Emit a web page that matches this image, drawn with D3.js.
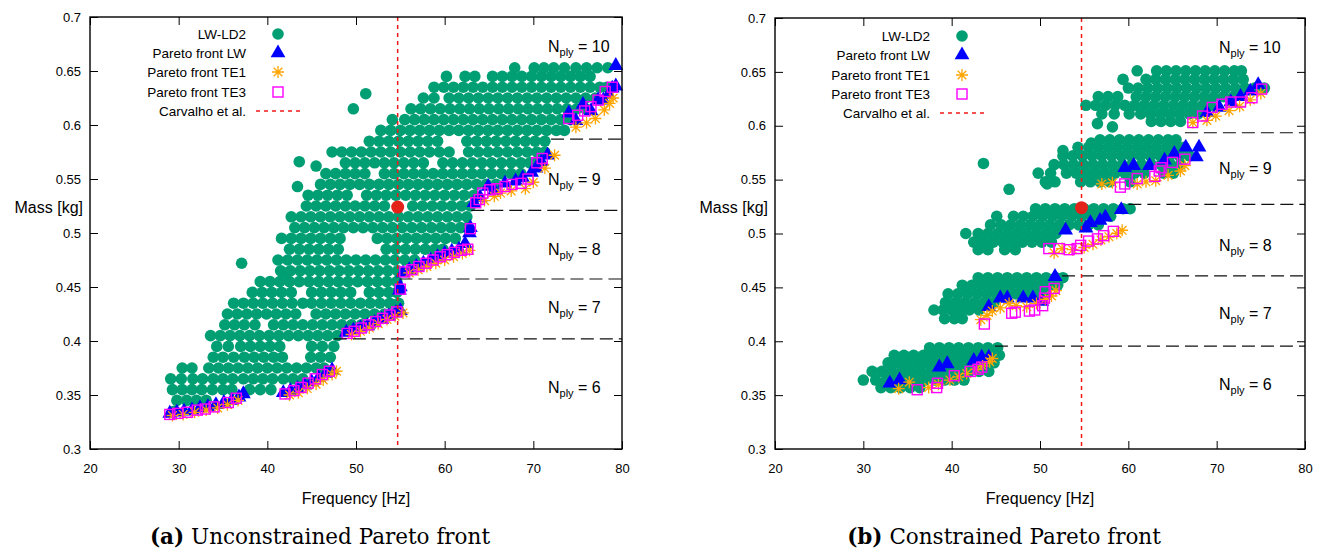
<!DOCTYPE html>
<html>
<head>
<meta charset="utf-8">
<script src="https://cdn.jsdelivr.net/npm/d3@7"></script>
<style>
  body { margin: 0; background: #fff; }
  text { font-family: "Liberation Sans", Arial, sans-serif; }
</style>
</head>
<body>
<div id="chart"></div>
<script>
// axis ticks
var freqTicks = [20, 30, 40, 50, 60, 70, 80];
var massTicks = [0.3, 0.35, 0.4, 0.45, 0.5, 0.55, 0.6, 0.65, 0.7];
var massTickLabels = ['0.3', '0.35', '0.4', '0.45', '0.5', '0.55', '0.6', '0.65', '0.7'];
var carvalhoFreq = 54.7;
var carvalhoMass = 0.524;
var nplyNames = ['10', '9', '8', '7', '6'];

// ---------- (a) unconstrained: LW-LD2 cloud, one row of frequencies per mass level
var cloudMassA = [0.335, 0.345, 0.355, 0.365, 0.375, 0.385, 0.395, 0.405, 0.415, 0.425,
  0.435, 0.445, 0.455, 0.465, 0.475, 0.485, 0.495, 0.505, 0.515, 0.525, 0.535, 0.545,
  0.555, 0.565, 0.575, 0.585, 0.595, 0.605, 0.615, 0.625, 0.635, 0.645, 0.653];
var cloudFreqA = [
  [29.5],
  [29.8, 30.9, 32.0, 33.1],
  [29.3, 30.4, 31.5, 32.6, 33.8, 35.0, 36.0, 38.0, 39.2, 40.4],
  [29.1, 30.3, 31.6, 32.7, 33.9, 35.0, 36.1, 37.3, 38.4, 39.5, 40.6, 41.8, 42.9, 44.0],
  [30.4, 31.5, 33.4, 34.5, 35.6, 36.7, 37.8, 38.9, 40.0, 41.1, 42.2, 43.3, 44.4, 45.5, 46.4],
  [33.9, 35.0, 36.2, 37.4, 38.5, 39.6, 40.7, 41.7, 44.9, 46.0, 47.1],
  [34.3, 35.6, 37.0, 38.1, 39.2, 40.3, 41.4, 45.0, 46.2, 47.5],
  [33.6, 34.7, 35.8, 36.9, 38.0, 39.1, 40.2, 41.3, 42.4, 43.5, 44.6, 45.7, 46.8, 47.9],
  [35.2, 36.3, 37.4, 38.6, 40.7, 41.8, 42.9, 44.0, 45.1, 46.2, 47.3, 48.4, 49.5, 50.6, 51.7],
  [35.5, 36.6, 37.7, 38.8, 39.9, 41.0, 42.1, 43.2, 45.5, 46.6, 47.7, 48.8, 49.9, 51.0, 52.1, 53.2, 54.2],
  [36.2, 37.3, 38.4, 39.5, 40.6, 41.7, 42.8, 44.0, 45.0, 46.1, 47.2, 48.3, 49.4, 50.5, 51.6, 52.7, 53.8, 54.8],
  [38.3, 39.4, 40.5, 41.6, 42.7, 45.0, 46.1, 47.2, 48.3, 49.4, 51.5, 52.6, 53.7, 54.6],
  [39.2, 40.3, 41.4, 42.5, 43.6, 44.7, 45.8, 46.9, 48.0, 49.1, 50.2, 51.3, 52.4, 53.5, 54.6],
  [41.5, 42.6, 43.7, 44.8, 45.9, 47.0, 48.1, 49.2, 50.3, 51.4, 52.5, 53.6, 54.7],
  [41.2, 42.3, 43.4, 44.5, 45.6, 46.7, 47.8, 48.9, 50.0, 51.1, 52.2, 53.3, 54.4, 55.5, 56.6],
  [42.5, 43.6, 44.7, 45.8, 46.9, 48.0, 53.4, 54.5, 55.6, 56.7, 57.8, 58.9, 59.8],
  [41.6, 42.7, 43.8, 44.9, 46.0, 47.1, 48.2, 52.4, 53.5, 54.6, 55.7, 56.8, 57.9, 59.0, 60.1, 61.2],
  [43.1, 44.2, 45.3, 46.4, 47.5, 48.6, 49.7, 50.8, 51.9, 53.0, 54.1, 55.2, 56.3, 57.4, 58.5, 59.6, 60.7, 61.8, 62.5],
  [42.7, 43.8, 44.9, 46.0, 47.1, 48.2, 49.3, 50.4, 51.5, 52.6, 53.7, 54.8, 55.9, 57.0, 58.1, 59.2, 60.3, 61.4, 62.5],
  [44.4, 45.5, 46.6, 47.7, 48.8, 49.9, 51.0, 52.1, 53.2, 56.4, 57.5, 58.6, 59.7, 60.8, 61.9, 62.9],
  [44.6, 45.7, 46.8, 47.9, 49.0, 51.2, 52.3, 53.4, 54.5, 55.6, 56.7, 57.8, 58.9, 60.0, 61.1, 62.2, 63.3],
  [46.0, 47.1, 48.2, 49.3, 50.4, 51.5, 52.6, 53.7, 54.8, 55.9, 57.0, 58.1, 59.2, 60.3, 61.4, 62.5, 63.6, 64.7, 65.8],
  [46.6, 47.7, 48.8, 49.9, 51.0, 53.2, 54.3, 55.4, 56.5, 57.6, 58.7, 59.8, 60.9, 62.0, 63.1, 64.2, 65.3, 66.4, 67.5, 68.6],
  [48.8, 49.9, 51.0, 52.1, 53.2, 54.3, 55.4, 56.5, 57.6, 59.8, 60.9, 62.0, 63.1, 64.2, 65.3, 66.4, 67.5, 68.6, 69.6, 70.4],
  [47.3, 48.4, 49.5, 50.6, 51.7, 52.8, 53.9, 55.0, 56.1, 57.2, 58.3, 59.4, 60.5, 62.7, 63.8, 64.9, 66.0, 67.1, 68.2, 69.3, 70.4, 71.3],
  [51.5, 52.6, 53.7, 54.8, 55.9, 57.0, 58.1, 59.2, 62.5, 63.6, 64.7, 65.8, 66.9, 68.0, 69.1, 70.2, 71.3],
  [52.8, 53.9, 55.0, 56.1, 57.2, 58.3, 59.4, 60.5, 61.6, 62.7, 63.8, 64.9, 66.0, 67.1, 68.2, 69.3, 70.4, 71.5, 72.6, 73.5],
  [54.1, 55.5, 56.6, 57.7, 58.8, 59.9, 61.0, 62.1, 63.2, 64.3, 65.4, 66.5, 67.6, 68.7, 69.8, 70.9, 72.0, 73.1, 74.2],
  [56.2, 57.3, 58.4, 59.5, 60.6, 61.7, 62.8, 63.9, 65.0, 66.1, 67.2, 68.3, 69.4, 70.5, 71.6, 72.7, 73.8, 74.9, 75.9],
  [57.6, 58.8, 60.5, 61.6, 62.7, 63.8, 64.9, 66.0, 67.1, 68.2, 69.3, 70.4, 71.5, 72.6, 73.7, 74.8, 75.9, 77.0],
  [58.8, 59.9, 61.0, 62.1, 63.2, 64.3, 65.4, 66.5, 67.6, 68.7, 69.8, 70.9, 72.0, 73.1, 74.2, 75.3, 76.4, 77.5, 78.3],
  [60.2, 62.3, 63.4, 65.4, 66.5, 67.6, 68.7, 69.8, 70.9, 72.0, 73.1, 74.2, 75.3, 76.4],
  [67.9, 70.1, 71.2, 72.3, 73.5, 74.8, 76.0, 77.2, 78.4]
];
var cloudExtraA = [[37.1, 0.472], [42.0, 0.463], [43.6, 0.566], [45.5, 0.562], [43.4, 0.543],
  [49.7, 0.615], [51.1, 0.629]];

var paretoLwA = [
  [29.0, 0.333], [29.8, 0.334], [30.6, 0.335], [31.5, 0.336], [32.4, 0.338], [33.3, 0.339], [34.2, 0.341],
  [35.1, 0.343], [36.0, 0.345], [36.8, 0.348], [37.3, 0.351], [41.8, 0.352], [42.6, 0.354], [43.4, 0.356],
  [44.2, 0.359], [45.0, 0.362], [45.8, 0.366], [46.6, 0.370], [47.3, 0.373],
  [48.9, 0.408], [49.7, 0.410], [50.5, 0.412], [51.3, 0.414], [52.1, 0.417], [52.9, 0.420], [53.7, 0.423],
  [54.5, 0.426], [55.0, 0.428], [54.9, 0.447], [55.0, 0.450],
  [55.3, 0.463], [56.0, 0.466], [56.8, 0.469], [57.6, 0.472], [58.4, 0.475], [59.2, 0.478], [60.0, 0.481],
  [60.8, 0.483], [61.6, 0.485], [62.3, 0.490], [62.8, 0.500], [62.9, 0.505],
  [63.3, 0.528], [64.0, 0.533], [64.9, 0.543], [65.6, 0.539], [66.8, 0.546], [68.0, 0.548], [68.8, 0.551],
  [69.8, 0.556], [70.3, 0.560], [70.9, 0.566], [71.6, 0.572],
  [74.0, 0.611], [74.8, 0.604], [75.6, 0.619], [76.5, 0.613], [77.3, 0.623], [77.9, 0.623], [78.5, 0.628],
  [78.9, 0.634], [79.3, 0.636], [79.3, 0.655]
];
var paretoTe1A = [
  [29.3, 0.331], [30.5, 0.332], [31.8, 0.334], [33.1, 0.336], [34.4, 0.338], [35.5, 0.341], [36.7, 0.345],
  [42.5, 0.350], [43.5, 0.352], [44.5, 0.356], [45.5, 0.360], [46.3, 0.364], [47.3, 0.369], [47.8, 0.372],
  [49.5, 0.406], [50.5, 0.409], [51.5, 0.412], [52.5, 0.416], [53.5, 0.420], [54.4, 0.423], [55.3, 0.426],
  [56.0, 0.463], [57.0, 0.466], [58.0, 0.469], [59.0, 0.472], [60.0, 0.475], [61.0, 0.478], [62.0, 0.481], [62.8, 0.484],
  [64.5, 0.530], [65.6, 0.534], [66.3, 0.537], [67.5, 0.539], [69.1, 0.541], [70.0, 0.547], [71.3, 0.560], [72.4, 0.572],
  [74.8, 0.598], [76.0, 0.602], [77.0, 0.606], [78.0, 0.614], [78.6, 0.620], [79.0, 0.625]
];
var paretoTe3A = [
  [29.0, 0.332], [29.9, 0.333], [31.0, 0.334], [32.1, 0.336], [33.0, 0.337], [34.0, 0.339], [35.6, 0.343],
  [36.5, 0.347], [42.0, 0.351], [43.0, 0.354], [43.8, 0.357], [44.6, 0.361], [45.4, 0.365], [46.2, 0.369], [47.0, 0.372],
  [49.0, 0.407], [49.8, 0.409], [50.6, 0.412], [51.4, 0.415], [52.2, 0.418], [53.0, 0.421], [53.8, 0.424],
  [54.6, 0.427], [55.0, 0.448],
  [55.5, 0.464], [56.3, 0.466], [57.1, 0.469], [57.9, 0.472], [58.7, 0.475], [59.5, 0.478], [60.3, 0.480],
  [61.1, 0.482], [61.9, 0.484], [62.6, 0.485], [62.9, 0.504],
  [63.5, 0.528], [63.9, 0.531], [64.3, 0.537], [65.1, 0.540], [65.9, 0.541], [66.8, 0.543], [67.6, 0.545],
  [68.6, 0.546], [69.4, 0.550], [70.4, 0.565], [71.0, 0.569],
  [74.0, 0.606], [75.0, 0.609], [75.8, 0.613], [76.5, 0.617], [77.3, 0.623], [78.1, 0.631], [78.9, 0.635]
];
// ply boundaries: [mass, start frequency]
var plyLinesA = [[0.587, 72.0], [0.521, 63.0], [0.4574, 54.9], [0.4019, 47.5]];
var plyLabelMassA = [0.673, 0.5497, 0.4847, 0.4308, 0.3566];

// ---------- (b) constrained
var cloudMassB = [0.357, 0.364, 0.372, 0.380, 0.387, 0.394, 0.421, 0.429, 0.436, 0.444, 0.452, 0.459,
  0.485, 0.492, 0.500, 0.508, 0.516, 0.523, 0.548, 0.556, 0.564, 0.572, 0.580, 0.587,
  0.604, 0.611, 0.619, 0.627, 0.635, 0.643, 0.651];
var cloudFreqB = [
  [32.0, 33.1, 34.2, 35.3, 36.4],
  [30.0, 31.4, 32.6, 33.7, 34.8, 35.9, 37.0, 38.1, 39.2, 40.3, 41.4],
  [31.0, 32.1, 33.2, 34.3, 35.4, 36.5, 37.6, 38.7, 39.8, 40.9, 42.0, 43.1, 44.2],
  [32.8, 33.9, 35.0, 36.1, 37.2, 38.3, 39.4, 40.5, 41.6, 42.7, 43.8, 44.8],
  [33.5, 34.6, 35.7, 36.8, 37.9, 39.0, 40.1, 41.2, 42.3, 43.4, 44.5, 45.4],
  [37.5, 38.6, 39.7, 40.8, 41.9, 43.0, 44.1, 45.2],
  [39.2, 40.3, 41.2],
  [38.0, 39.0, 40.0, 41.0, 42.0, 43.1],
  [39.3, 40.4, 41.5, 42.6, 43.7, 44.8],
  [39.6, 40.7, 41.8, 42.9, 44.0, 45.1, 46.2, 47.3, 48.4, 49.5, 50.5],
  [41.2, 42.3, 43.4, 44.5, 45.6, 46.7, 47.8, 48.9, 50.0, 51.1, 52.0],
  [43.0, 44.1, 45.2, 46.3, 47.4, 48.5, 49.6, 50.7, 51.8, 52.6],
  [43.0, 44.1, 46.0, 47.2],
  [42.5, 43.6, 44.7, 45.8, 46.9, 48.0, 49.1, 50.2, 51.3],
  [41.6, 43.0, 44.1, 45.2, 46.3, 47.4, 48.5, 49.6, 50.7, 51.8],
  [44.4, 45.6, 46.7, 47.8, 48.9, 50.0, 51.1, 52.2, 53.3, 54.4, 55.5, 56.6],
  [45.1, 47.0, 48.1, 49.2, 50.3, 51.4, 52.5, 53.6, 54.7, 55.8, 56.9, 58.0],
  [49.5, 50.6, 51.7, 52.8, 53.9, 55.0, 56.1, 57.2, 58.3, 59.4, 60.2],
  [50.6, 51.7, 54.6, 55.7, 56.8, 57.9, 60.2],
  [49.8, 51.2, 53.0, 54.1, 55.2, 56.3, 57.4, 58.5, 59.6, 60.7, 61.8, 64.0, 65.1],
  [51.6, 52.7, 53.8, 54.9, 56.0, 57.1, 58.2, 59.3, 60.4, 61.5, 62.6, 63.7, 64.8, 65.9],
  [52.6, 53.7, 54.8, 55.9, 57.0, 58.1, 59.2, 60.3, 61.4, 62.5, 63.6, 64.7, 65.8, 66.9],
  [54.3, 55.5, 56.6, 57.7, 58.8, 59.9, 61.0, 62.1, 63.2, 64.3, 65.4, 66.3],
  [56.8, 57.9, 59.0, 60.1, 61.2, 62.3, 63.4, 64.5, 65.4],
  [62.6, 63.7, 64.8, 65.9],
  [57.0, 58.4, 60.1, 61.4, 62.5, 63.6, 64.7, 65.8, 66.9, 67.9],
  [55.2, 56.3, 57.4, 58.5, 59.6, 60.7, 61.8, 62.9, 64.0, 65.1, 66.2, 67.3, 68.4, 69.3],
  [56.6, 57.7, 58.8, 60.9, 62.0, 63.1, 64.2, 65.3, 66.4, 67.5, 68.6, 69.7, 70.8, 71.9],
  [60.0, 61.1, 62.2, 63.3, 64.4, 65.5, 66.6, 67.7, 68.8, 69.9, 71.0, 72.1, 73.2, 74.3, 75.4],
  [59.4, 62.0, 63.1, 64.2, 65.3, 66.4, 67.5, 68.6, 69.7, 70.8, 71.9, 73.0],
  [61.0, 63.2, 64.3, 65.4, 66.5, 67.6, 68.7, 69.8, 70.9, 72.0, 72.8]
];
var cloudExtraB = [[43.6, 0.565], [46.5, 0.541], [50.8, 0.546], [52.6, 0.577], [56.5, 0.602],
  [58.2, 0.599], [55.8, 0.584]];

var paretoLwB = [
  [33.0, 0.361], [34.1, 0.364], [38.6, 0.376], [39.5, 0.379], [42.5, 0.382], [43.4, 0.385], [44.2, 0.385],
  [44.2, 0.432], [45.5, 0.440], [46.3, 0.440], [48.1, 0.440], [49.2, 0.440], [50.2, 0.437], [51.7, 0.460],
  [52.9, 0.503], [55.2, 0.505], [55.7, 0.510], [56.8, 0.512], [57.4, 0.515], [59.2, 0.522],
  [59.6, 0.561], [60.6, 0.563], [62.4, 0.563], [64.1, 0.568], [65.2, 0.574], [66.5, 0.580], [67.7, 0.571], [68.0, 0.580],
  [68.9, 0.612], [70.3, 0.617], [71.6, 0.622], [72.7, 0.627], [73.8, 0.632], [74.7, 0.638]
];
var paretoTe1B = [
  [34.0, 0.356], [35.2, 0.362], [37.4, 0.357], [38.5, 0.360], [39.8, 0.364], [40.8, 0.367], [41.7, 0.370],
  [42.8, 0.374], [43.5, 0.377], [44.3, 0.381], [44.6, 0.384],
  [43.3, 0.420], [44.0, 0.424], [44.6, 0.428], [45.5, 0.431], [46.5, 0.435], [47.3, 0.433], [48.5, 0.432],
  [49.6, 0.435], [50.6, 0.439], [51.3, 0.442], [51.8, 0.447],
  [51.6, 0.482], [52.5, 0.486], [53.7, 0.485], [55.0, 0.487], [56.0, 0.490], [56.9, 0.494], [57.8, 0.497],
  [58.7, 0.500], [59.3, 0.503],
  [57.0, 0.546], [58.2, 0.547], [61.0, 0.546], [62.0, 0.548], [63.1, 0.549], [64.5, 0.554], [65.9, 0.558], [66.4, 0.563],
  [67.3, 0.603], [68.9, 0.605], [69.9, 0.609], [71.4, 0.614], [72.6, 0.618], [73.8, 0.624], [75.0, 0.630]
];
var paretoTe3B = [
  [36.1, 0.355], [38.3, 0.357], [38.4, 0.361], [40.3, 0.368], [42.1, 0.372], [43.0, 0.374], [43.4, 0.376],
  [43.7, 0.416], [46.8, 0.426], [47.2, 0.427], [48.8, 0.428], [49.4, 0.429], [50.3, 0.433], [50.5, 0.440],
  [50.6, 0.446], [51.6, 0.449],
  [51.0, 0.486], [52.2, 0.486], [53.3, 0.485], [54.2, 0.486], [54.6, 0.489], [55.5, 0.493], [56.5, 0.495],
  [57.2, 0.498], [58.3, 0.502],
  [59.1, 0.543], [59.6, 0.546], [61.0, 0.551], [63.0, 0.553], [63.5, 0.558], [63.7, 0.561], [65.0, 0.566], [66.4, 0.569],
  [67.3, 0.603], [68.4, 0.609], [69.5, 0.617], [70.6, 0.620], [71.6, 0.622], [72.7, 0.622], [74.0, 0.626], [75.1, 0.634]
];
var plyLinesB = [[0.5935, 66.4], [0.527, 60.0], [0.4606, 52.5], [0.3955, 44.9]];
var plyLabelMassB = [0.673, 0.5608, 0.4893, 0.4262, 0.3603];

var legendNames = ['LW-LD2', 'Pareto front LW', 'Pareto front TE1', 'Pareto front TE3', 'Carvalho et al.'];

var colors = {
  cloud: '#009e73',
  lw: '#0000ff',
  te1: '#ffa500',
  te3: '#ff00ff',
  ref: '#f01a1a',
  refDot: '#e3231a'
};
var dotR = 5.8;

var svg = d3.select('#chart').append('svg')
  .attr('width', 1320)
  .attr('height', 552);

var rowsToPoints = function(masses, rows) {
  var pts = [];
  masses.forEach(function(m, i) {
    rows[i].forEach(function(f) { pts.push([f, m]); });
  });
  return pts;
};

var starPath = function(s) {
  var d = s * 0.72;
  return 'M' + (-s) + ',0L' + s + ',0M0,' + (-s) + 'L0,' + s +
    'M' + (-d) + ',' + (-d) + 'L' + d + ',' + d + 'M' + (-d) + ',' + d + 'L' + d + ',' + (-d);
};
var triPath = d3.symbol().type(d3.symbolTriangle).size(95)();

var drawMarker = function(g, kind) {
  if (kind === 'cloud') {
    g.append('circle').attr('r', dotR).attr('fill', colors.cloud);
  } else if (kind === 'lw') {
    g.append('path').attr('d', triPath).attr('fill', colors.lw);
  } else if (kind === 'te1') {
    g.append('path').attr('d', starPath(6)).attr('stroke', colors.te1)
      .attr('stroke-width', 1.3).attr('fill', 'none');
  } else if (kind === 'te3') {
    g.append('rect').attr('x', -5).attr('y', -5).attr('width', 10).attr('height', 10)
      .attr('fill', 'none').attr('stroke', colors.te3).attr('stroke-width', 1.4);
  }
};

var drawPanel = function(p) {
  var x = d3.scaleLinear().domain([20, 80]).range([p.left, p.right]);
  var y = d3.scaleLinear().domain([0.3, 0.7]).range([p.bottom, p.top]);
  var g = svg.append('g');

  var cloud = rowsToPoints(p.cloudMass, p.cloudFreq).concat(p.cloudExtra);
  g.append('g').selectAll('circle').data(cloud).enter().append('circle')
    .attr('cx', function(d) { return x(d[0]); })
    .attr('cy', function(d) { return y(d[1]); })
    .attr('r', dotR)
    .attr('fill', colors.cloud);

  g.append('g').selectAll('path').data(p.lw).enter().append('path')
    .attr('d', triPath)
    .attr('transform', function(d) { return 'translate(' + x(d[0]) + ',' + y(d[1]) + ')'; })
    .attr('fill', colors.lw);

  g.append('g').selectAll('path').data(p.te1).enter().append('path')
    .attr('d', starPath(6))
    .attr('transform', function(d) { return 'translate(' + x(d[0]) + ',' + y(d[1]) + ')'; })
    .attr('fill', 'none').attr('stroke', colors.te1).attr('stroke-width', 1.3);

  g.append('g').selectAll('rect').data(p.te3).enter().append('rect')
    .attr('x', function(d) { return x(d[0]) - 5; })
    .attr('y', function(d) { return y(d[1]) - 5; })
    .attr('width', 10).attr('height', 10)
    .attr('fill', 'none').attr('stroke', colors.te3).attr('stroke-width', 1.4);

  // ply boundaries
  g.append('g').selectAll('line').data(p.plyLines).enter().append('line')
    .attr('x1', function(d) { return x(d[1]); })
    .attr('x2', x(80))
    .attr('y1', function(d) { return y(d[0]); })
    .attr('y2', function(d) { return y(d[0]); })
    .attr('stroke', '#111').attr('stroke-width', 1.2).attr('stroke-dasharray', '13,6');

  // reference (Carvalho et al.)
  g.append('line')
    .attr('x1', x(carvalhoFreq)).attr('x2', x(carvalhoFreq))
    .attr('y1', y(0.7)).attr('y2', y(0.3))
    .attr('stroke', colors.ref).attr('stroke-width', 1.5).attr('stroke-dasharray', '4,4');
  g.append('circle')
    .attr('cx', x(carvalhoFreq)).attr('cy', y(carvalhoMass)).attr('r', 6.5)
    .attr('fill', colors.refDot);

  // N_ply labels
  var lab = g.append('g').selectAll('text').data(p.plyLabelMass).enter().append('text')
    .attr('x', p.plyLabelX)
    .attr('y', function(d) { return y(d); })
    .attr('dy', '0.35em')
    .attr('font-size', 16);
  lab.append('tspan').text('N');
  lab.append('tspan').attr('font-size', 11).attr('dy', 4).text('ply');
  lab.append('tspan').attr('dy', -4).text(function(d, i) { return ' = ' + nplyNames[i]; });

  // axes (ticks point inward on all four sides)
  var axB = g.append('g').attr('transform', 'translate(0,' + p.bottom + ')')
    .call(d3.axisBottom(x).tickValues(freqTicks).tickSize(-8).tickPadding(15).tickFormat(d3.format('d')));
  var axL = g.append('g').attr('transform', 'translate(' + p.left + ',0)')
    .call(d3.axisLeft(y).tickValues(massTicks).tickSize(-8).tickPadding(9)
      .tickFormat(function(d, i) { return massTickLabels[i]; }));
  var axT = g.append('g').attr('transform', 'translate(0,' + p.top + ')')
    .call(d3.axisTop(x).tickValues(freqTicks).tickSize(-8).tickFormat(''));
  var axR = g.append('g').attr('transform', 'translate(' + p.right + ',0)')
    .call(d3.axisRight(y).tickValues(massTicks).tickSize(-8).tickFormat(''));
  [axB, axL, axT, axR].forEach(function(a) {
    a.select('.domain').remove();
    a.selectAll('line').attr('stroke', '#000').attr('stroke-width', 1);
    a.selectAll('text').attr('font-size', 13).attr('fill', '#000')
      .style('font-family', '"Liberation Sans", Arial, sans-serif');
  });

  g.append('rect')
    .attr('x', p.left).attr('y', p.top)
    .attr('width', p.right - p.left).attr('height', p.bottom - p.top)
    .attr('fill', 'none').attr('stroke', '#000').attr('stroke-width', 1.4);

  // axis titles
  g.append('text').attr('x', (p.left + p.right) / 2).attr('y', 504)
    .attr('text-anchor', 'middle').attr('font-size', 16).text('Frequency [Hz]');
  g.append('text').attr('x', p.left - 7).attr('y', 213)
    .attr('text-anchor', 'end').attr('font-size', 16).text('Mass [kg]');

  // legend
  var kinds = ['cloud', 'lw', 'te1', 'te3', 'ref'];
  kinds.forEach(function(k, i) {
    var ly = p.legendY[i];
    svg.append('text').attr('x', p.legendTextX).attr('y', ly).attr('dy', '0.35em')
      .attr('text-anchor', 'end').attr('font-size', 13.5).text(legendNames[i]);
    if (k === 'ref') {
      svg.append('line').attr('x1', p.legendSymX - 22).attr('x2', p.legendSymX + 23)
        .attr('y1', ly).attr('y2', ly)
        .attr('stroke', colors.ref).attr('stroke-width', 1.5).attr('stroke-dasharray', '4,4');
    } else {
      var mg = svg.append('g').attr('transform', 'translate(' + p.legendSymX + ',' + ly + ')');
      drawMarker(mg, k);
    }
  });

  // caption
  var cap = svg.append('text').attr('x', p.captionX).attr('y', 544)
    .attr('text-anchor', 'middle').attr('font-size', 21.5)
    .style('font-family', '"DejaVu Serif", "Liberation Serif", serif');
  cap.append('tspan').attr('font-weight', 'bold').text(p.captionTag);
  cap.append('tspan').text(' ' + p.caption);
};

drawPanel({
  left: 90, right: 622, top: 17, bottom: 449,
  cloudMass: cloudMassA, cloudFreq: cloudFreqA, cloudExtra: cloudExtraA,
  lw: paretoLwA, te1: paretoTe1A, te3: paretoTe3A,
  plyLines: plyLinesA, plyLabelMass: plyLabelMassA, plyLabelX: 548,
  legendY: [34, 53, 72, 92, 111], legendTextX: 246, legendSymX: 278,
  captionX: 320, captionTag: '(a)', caption: 'Unconstrained Pareto front'
});

drawPanel({
  left: 775, right: 1305, top: 18, bottom: 449,
  cloudMass: cloudMassB, cloudFreq: cloudFreqB, cloudExtra: cloudExtraB,
  lw: paretoLwB, te1: paretoTe1B, te3: paretoTe3B,
  plyLines: plyLinesB, plyLabelMass: plyLabelMassB, plyLabelX: 1219,
  legendY: [36, 55, 75, 94, 113], legendTextX: 930, legendSymX: 962,
  captionX: 1004, captionTag: '(b)', caption: 'Constrained Pareto front'
});
</script>
</body>
</html>
